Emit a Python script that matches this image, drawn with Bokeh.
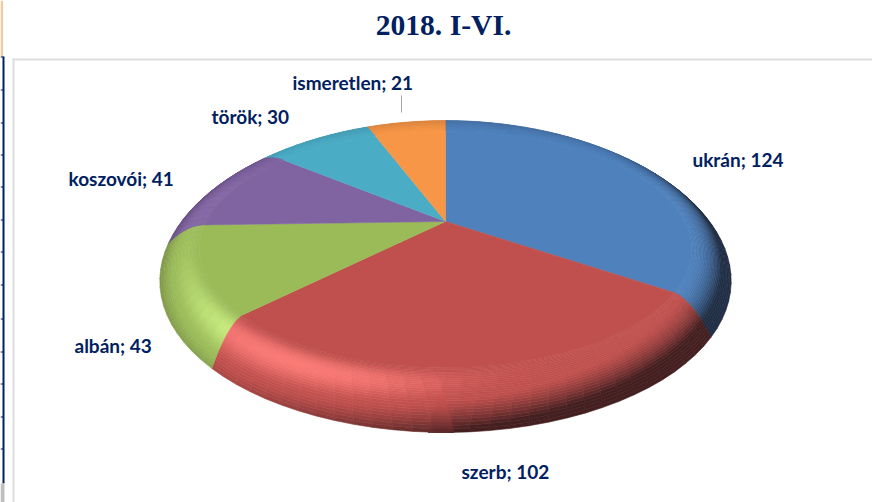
import math
from bokeh.plotting import figure
from bokeh.models import Range1d
from bokeh.embed import file_html
from bokeh.resources import INLINE
from bokeh.core.properties import value

categories = ["ukrán", "szerb", "albán", "koszovói", "török", "ismeretlen"]
values = [124, 102, 43, 41, 30, 21]
colors = ["#4F81BD", "#C0504D", "#9BBB59", "#8064A2", "#4BACC6", "#F79646"]
title = "2018. I-VI."
label_x = [692, 461, 74, 68, 211, 292]
label_y = [159, 471, 345, 178, 116, 82]
NAVY = "#002060"

# perspective of the pie
CX, CY, A, B, K, DROP, R0 = 445.0, 221.0, 275.0, 128.3, 0.271, 35.0, 0.87
L = (-0.28, -0.55, 0.72)


def proj(theta, r):
    t = max(0.0, (r - R0) / (1 - R0))
    th = theta
    v0 = math.cos(th)
    if v0 < 0 and t > 0:  # rim seams lean toward the front
        u0 = math.sin(th)
        th = th + math.radians(3.5) * t * (1 if u0 > 0 else -1) * -v0
    u, v = math.sin(th), math.cos(th)
    d = 1 + K * r * v
    x = CX + A * r * u / d
    y = CY - B * r * v / d
    y += DROP * (0.5 - 0.5 * math.cos(theta)) * t ** 2
    return x, y


def mix(c, target, f):
    return tuple(a + (b - a) * f for a, b in zip(c, target))


def rgb(h):
    return tuple(int(h[i:i + 2], 16) for i in (1, 3, 5))


def shade(base, theta, t):
    u, v = math.sin(theta), math.cos(theta)
    al = t * math.pi / 2
    n = (math.sin(al) * u, math.sin(al) * v, math.cos(al))
    dlt = n[0] * L[0] + n[1] * L[1] + n[2] * L[2] - L[2]
    dlt -= max(0.0, 0.4 + 0.6 * u) * t ** 3
    if dlt >= 0:
        d = math.degrees(theta) - 200.0
        width = 25.0 if d < 0 else 70.0
        x = min(1.0, dlt / 0.228) ** 2 * math.exp(-(d / width) ** 2)
        c = tuple(min(255, a * (1 + 0.33 * x)) for a in base)
        c = mix(c, (255, 255, 255), 0.12 * x)
    else:
        back = max(0.08, 0.5 - 0.6 * v)
        c = mix(base, (10, 8, 12), min(0.68, -dlt * 1.05 * back))
    return "#%02x%02x%02x" % tuple(int(min(255, a)) for a in c)


p = figure(width=872, height=502, toolbar_location=None, output_backend="svg",
           x_range=Range1d(0, 872), y_range=Range1d(502, 0), min_border=0,
           outline_line_color=None, margin=0,
           background_fill_color="white", border_fill_color="white")
p.axis.visible = False
p.grid.visible = False

# page furniture
p.quad(left=[0], right=[2.6], top=[0], bottom=[56], fill_color="#F6C9A0", line_color=None)
p.quad(left=[2], right=[4], top=[56], bottom=[483], fill_color=NAVY, line_color=None)
tick_ys = [56.5, 89.5, 122.5, 154.5, 186.5, 219.5, 251.5, 284.5, 318.5, 351.5, 383.5, 416.5, 448.5]
p.segment(x0=[0] * len(tick_ys), x1=[3] * len(tick_ys), y0=tick_ys, y1=tick_ys, line_color=NAVY, line_width=1)
p.quad(left=[0], right=[4], top=[483], bottom=[502], fill_color="#BFBFBF", line_color=None)
p.quad(left=[12], right=[14], top=[58], bottom=[502], fill_color="#DEDEDE", line_color=None)
p.quad(left=[12], right=[872], top=[58], bottom=[60], fill_color="#DEDEDE", line_color=None)

# slices
total = sum(values)
starts, a0 = [], 0.0
for val in values:
    starts.append(a0)
    a0 += val / total * 2 * math.pi

RINGS = 28
xs, ys, cs = [], [], []
for ring in range(RINGS - 1, -1, -1):
    r1, r2 = R0 + (1 - R0) * ring / RINGS, R0 + (1 - R0) * (ring + 1) / RINGS
    tm = (ring + 0.5) / RINGS
    for val, st, col in zip(values, starts, colors):
        sweep = val / total * 2 * math.pi
        n = max(4, int(sweep / math.radians(3.0)))
        base = rgb(col)
        for i in range(n):
            a, b = st + sweep * i / n, st + sweep * (i + 1) / n
            pts = [proj(a, r1), proj(b, r1), proj(b, r2), proj(a, r2)]
            xs.append([q[0] for q in pts])
            ys.append([q[1] for q in pts])
            cs.append(shade(base, (a + b) / 2, tm))
p.patches(xs, ys, fill_color=cs, line_color=cs, line_width=0.6)

fx, fy, fc = [], [], []
for val, st, col in zip(values, starts, colors):
    sweep = val / total * 2 * math.pi
    n = max(4, int(sweep / math.radians(2.0)))
    pts = [proj(st + sweep * i / n, R0) for i in range(n + 1)]
    fx.append([CX] + [q[0] for q in pts])
    fy.append([CY] + [q[1] for q in pts])
    fc.append(col)
p.patches(fx, fy, fill_color=fc, line_color=fc, line_width=0.5)

# leader line of the smallest slice
p.segment(x0=[401], x1=[401], y0=[95], y1=[112], line_color="#A6A6A6", line_width=1)

labels = ["%s; %d" % (c, v) for c, v in zip(categories, values)]
p.text(x=label_x, y=label_y, text=labels, text_font=value("Lato"), text_font_style="bold",
       text_font_size="19px", text_color=NAVY, text_align="left", text_baseline="middle")
p.text(x=[443], y=[24.5], text=[title], text_font=value("Liberation Serif"), text_font_style="bold",
       text_font_size="29.6px", text_color=NAVY, text_align="center", text_baseline="middle")

open("out.html", "w").write(file_html(p, INLINE))
